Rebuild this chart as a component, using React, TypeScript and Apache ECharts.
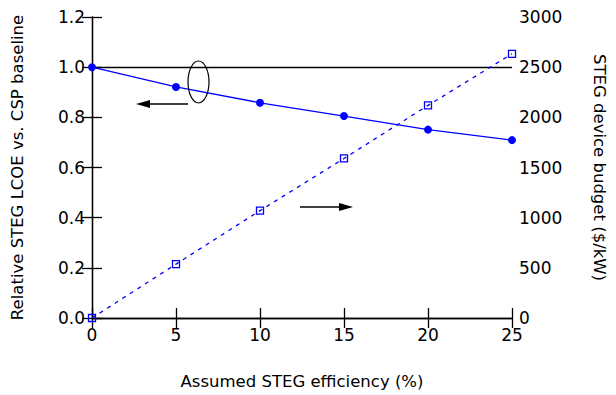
import React, { useEffect, useRef } from "react";
import * as echarts from "echarts";

const efficiency = [0, 5, 10, 15, 20, 25];
const relativeLCOE = [1.0, 0.921, 0.858, 0.805, 0.751, 0.709];
const deviceBudget = [0, 537, 1070, 1590, 2119, 2633];
const baselineLevel = 1.0;

const FONT = "DejaVu Sans";

export default function App() {
  const ref = useRef<HTMLDivElement>(null);

  useEffect(() => {
    if (!ref.current) return;
    const chart = echarts.init(ref.current, null, { renderer: "svg" });
    const axisLineStyle = { color: "#000", width: 1.3 };
    const tickStyle = { show: true, inside: true, length: 10, lineStyle: { color: "#000", width: 1.3 } };
    const labelStyle = { color: "#000", fontFamily: FONT, fontSize: 17 };
    const nameStyle = { color: "#000", fontFamily: FONT, fontSize: 16.5 };

    chart.setOption({
      animation: false,
      backgroundColor: "#fff",
      grid: { left: 92, right: 104, top: 17, bottom: 67, containLabel: false },
      xAxis: [
        {
          type: "value",
          min: 0,
          max: 25,
          interval: 5,
          position: "bottom",
          name: "Assumed STEG efficiency (%)",
          nameLocation: "middle",
          nameGap: 55,
          nameTextStyle: nameStyle,
          axisLine: { show: true, lineStyle: axisLineStyle },
          axisTick: tickStyle,
          axisLabel: { ...labelStyle, margin: 8 },
          splitLine: { show: false },
        },
        {
          type: "value",
          min: 0,
          max: 25,
          interval: 5,
          position: "top",
          axisLine: { show: true, lineStyle: axisLineStyle },
          axisTick: tickStyle,
          axisLabel: { show: false },
          splitLine: { show: false },
        },
      ],
      yAxis: [
        {
          type: "value",
          min: 0,
          max: 1.2,
          interval: 0.2,
          position: "left",
          name: "Relative STEG LCOE vs. CSP baseline",
          nameLocation: "middle",
          nameGap: 66,
          nameRotate: 90,
          nameTextStyle: nameStyle,
          axisLine: { show: true, lineStyle: axisLineStyle },
          axisTick: tickStyle,
          axisLabel: { ...labelStyle, margin: 7, formatter: (v: number) => v.toFixed(1) },
          splitLine: { show: false },
        },
        {
          type: "value",
          min: 0,
          max: 3000,
          interval: 500,
          position: "right",
          name: "STEG device budget ($/kW)",
          nameLocation: "middle",
          nameGap: 79,
          nameRotate: -90,
          nameTextStyle: nameStyle,
          axisLine: { show: true, lineStyle: axisLineStyle },
          axisTick: tickStyle,
          axisLabel: { ...labelStyle, margin: 7, formatter: (v: number) => String(v) },
          splitLine: { show: false },
        },
      ],
      series: [
        {
          name: "Relative LCOE",
          type: "line",
          xAxisIndex: 0,
          yAxisIndex: 0,
          data: efficiency.map((x, i) => [x, relativeLCOE[i]]),
          symbol: "circle",
          symbolSize: 8,
          showAllSymbol: true,
          lineStyle: { color: "#0000ff", width: 1.3 },
          itemStyle: { color: "#0000ff" },
          z: 3,
          markLine: {
            silent: true,
            symbol: ["none", "none"],
            label: { show: false },
            lineStyle: { color: "#000", type: "solid", width: 1.3 },
            data: [{ yAxis: baselineLevel }],
            z: 2,
          },
        },
        {
          name: "Device budget",
          type: "line",
          xAxisIndex: 0,
          yAxisIndex: 1,
          data: efficiency.map((x, i) => [x, deviceBudget[i]]),
          symbol: "rect",
          symbolSize: 7,
          showAllSymbol: true,
          lineStyle: { color: "#0000ff", width: 1.3, type: [4, 5] },
          itemStyle: { color: "rgba(0,0,0,0)", borderColor: "#0000ff", borderWidth: 1.3 },
          z: 3,
        },
      ],
      graphic: [
        {
          type: "ellipse",
          shape: { cx: 198.5, cy: 82, rx: 10.5, ry: 21 },
          style: { fill: "none", stroke: "#000", lineWidth: 1.2 },
          z: 10,
        },
        {
          type: "line",
          shape: { x1: 188, y1: 104, x2: 148, y2: 104 },
          style: { stroke: "#000", lineWidth: 1.3 },
          z: 10,
        },
        {
          type: "polygon",
          shape: { points: [[136, 104], [150, 100], [150, 108]] },
          style: { fill: "#000" },
          z: 10,
        },
        {
          type: "line",
          shape: { x1: 300, y1: 207, x2: 341, y2: 207 },
          style: { stroke: "#000", lineWidth: 1.3 },
          z: 10,
        },
        {
          type: "polygon",
          shape: { points: [[353, 207], [339, 203], [339, 211]] },
          style: { fill: "#000" },
          z: 10,
        },
      ],
    });
    return () => chart.dispose();
  }, []);

  return (
    <div
      ref={ref}
      style={{ position: "fixed", left: 0, top: 0, width: 616, height: 395, background: "#fff" }}
    />
  );
}
